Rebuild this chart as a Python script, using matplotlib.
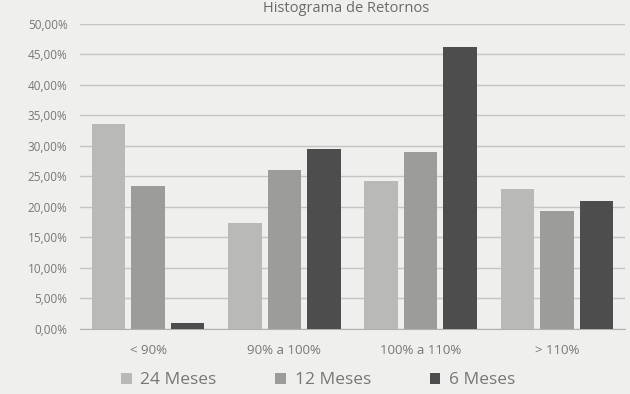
import matplotlib
matplotlib.use("Agg")
import matplotlib.pyplot as plt
import numpy as np
from matplotlib.ticker import FuncFormatter

categories = ["< 90%", "90% a 100%", "100% a 110%", "> 110%"]
series_names = ["24 Meses", "12 Meses", "6 Meses"]
meses_24 = [33.6, 17.4, 24.3, 22.9]
meses_12 = [23.4, 26.0, 29.0, 19.3]
meses_6 = [1.0, 29.5, 46.2, 21.0]
colors = ["#b9b9b7", "#9c9c9a", "#4d4d4d"]

plt.rcParams["font.family"] = ["Open Sans", "DejaVu Sans"]

fig = plt.figure(figsize=(6.3, 3.94), dpi=100)
fig.patch.set_facecolor("#efefed")
ax = fig.add_axes([0.127, 0.165, 0.865, 0.775])
ax.set_facecolor("#efefed")

x = np.arange(len(categories))
step = 0.29
width = 0.245
for i, (vals, name, c) in enumerate(zip([meses_24, meses_12, meses_6], series_names, colors)):
    ax.bar(x + (i - 1) * step, np.array(vals) / 100, width, color=c,
           label=name, zorder=3)

ax.set_xlim(-0.5, 3.5)
ax.set_ylim(0, 0.5)
ax.set_yticks(np.arange(0, 0.501, 0.05))
ax.yaxis.set_major_formatter(FuncFormatter(lambda v, p: f"{v*100:.2f}%".replace(".", ",")))
ax.set_xticks(x)
ax.set_xticklabels(categories)
ax.tick_params(axis="y", length=0, labelsize=8.5, labelcolor="#777777", pad=9)
ax.tick_params(axis="x", length=0, labelsize=9.5, labelcolor="#777777", pad=11)
ax.grid(axis="y", color="#c4c4c2", lw=1, zorder=0)
for s in ["top", "right", "left"]:
    ax.spines[s].set_visible(False)
ax.spines["bottom"].set_color("#b0b0ae")

fig.text(0.55, 0.978, "Histograma de Retornos", ha="center", va="center",
         fontsize=10.5, color="#6a6a6a")

leg = fig.legend(loc="center", bbox_to_anchor=(0.505, 0.035), ncol=3, frameon=False,
                 fontsize=12.5, handlelength=0.6, handleheight=0.6,
                 columnspacing=3.4, handletextpad=0.5)
for t in leg.get_texts():
    t.set_color("#777777")

fig.savefig("out.png", dpi=100, facecolor=fig.get_facecolor())
